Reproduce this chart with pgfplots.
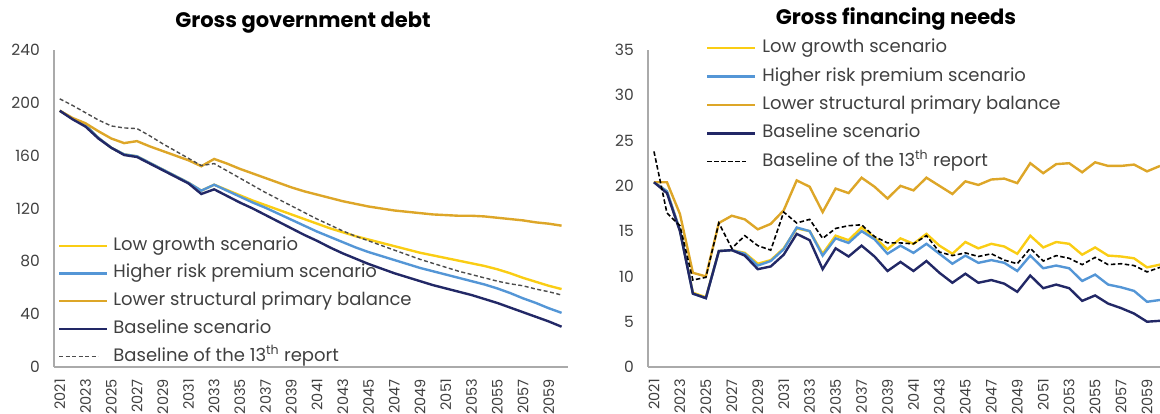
\documentclass[border=0pt]{standalone}
\usepackage{fontspec}
\setmainfont{Poppins}
\usepackage{pgfplots}
\usepackage{pgfplotstable}
\pgfplotsset{compat=1.18}
\definecolor{cLG}{RGB}{250,205,20}
\definecolor{cHR}{RGB}{84,150,214}
\definecolor{cLS}{RGB}{221,166,40}
\definecolor{cBL}{RGB}{34,40,102}
\definecolor{cAX}{RGB}{170,170,170}
\definecolor{cTX}{RGB}{64,64,64}

\pgfplotstableread{
year lg hr ls bl bt
2021 194 194 194 194 203
2022 188 188 188.5 187.5 198
2023 183 183 184.5 182 192.5
2024 173.5 173.5 178.5 173 187
2025 166 166 173 166 182.5
2026 161 161 169.5 160.5 181
2027 159.5 159.5 171 159 180.5
2028 154.5 154.5 167 154 175
2029 149.5 149.5 163.5 149 169
2030 144.5 144.5 160 144 163.5
2031 139.5 139.5 156.5 139 158
2032 133.5 133.5 152 131 152.5
2033 138 138 157.5 134.5 154
2034 134 133.5 154 129.5 148.5
2035 130 129 150 124.5 143
2036 126 124.5 146.5 120 137.5
2037 122.5 120.5 143 115 132
2038 119 116 139.5 110 127
2039 115.5 111.5 136 105 122
2040 112 107 133 100 117
2041 108.5 102.5 130.5 95.5 112
2042 105 98.5 128 90.5 107.5
2043 102 94.5 125.5 86 103
2044 99 90.5 123.5 82 99
2045 96.5 87 121.5 78 95.5
2046 94 84 120 74.5 92
2047 91.5 81 118.5 71 88.5
2048 89 78 117.5 68 85
2049 86.5 75 116.5 65 81.5
2050 84.5 72.5 115.5 62 78.5
2051 82.5 70 115 59.5 75.5
2052 80.5 67.5 114.5 57 72.5
2053 78.5 65 114.5 54.5 70
2054 76.5 62.5 114 51.5 67.5
2055 74 59.5 113 48.5 65
2056 71 56 112 45 63
2057 67.5 52 111 41.5 61.5
2058 64.5 48.5 109.5 38 59
2059 61.5 44.5 108.5 34.5 57
2060 59 41 107 30.5 54.5
}\debt

\pgfplotstableread{
year lg hr ls bl bt
2021 20.4 20.4 20.4 20.4 23.8
2022 19.4 19.4 20.4 19.2 17.0
2023 15.1 15.1 16.9 15.0 15.6
2024 8.2 8.1 10.4 8.1 9.6
2025 7.7 7.6 10.0 7.6 9.9
2026 12.8 12.8 15.9 12.8 15.9
2027 12.9 12.9 16.7 12.9 13.1
2028 12.6 12.5 16.3 12.3 14.5
2029 11.4 11.2 15.2 10.8 13.4
2030 11.8 11.7 15.8 11.1 12.9
2031 13.1 13.0 17.3 12.4 17.1
2032 15.3 15.4 20.6 14.7 15.9
2033 15.0 15.0 19.9 14.0 16.3
2034 12.5 12.3 17.1 10.8 14.2
2035 14.5 14.2 19.7 13.1 15.3
2036 14.0 13.7 19.2 12.2 15.6
2037 15.4 15.0 20.9 13.4 15.7
2038 14.3 14.1 19.9 12.2 14.4
2039 13.0 12.5 18.6 10.6 13.7
2040 14.2 13.4 20.0 11.6 13.7
2041 13.6 12.6 19.5 10.6 13.6
2042 14.7 13.6 20.9 11.7 14.5
2043 13.4 12.5 20.0 10.4 12.7
2044 12.5 11.4 19.1 9.3 12.3
2045 13.8 12.3 20.5 10.3 12.6
2046 13.1 11.5 20.1 9.3 12.2
2047 13.6 11.8 20.7 9.6 12.5
2048 13.3 11.5 20.8 9.2 11.8
2049 12.5 10.6 20.3 8.3 11.4
2050 14.5 12.3 22.5 10.1 13.1
2051 13.2 10.9 21.4 8.7 11.7
2052 13.8 11.2 22.4 9.1 12.3
2053 13.6 10.9 22.5 8.7 12.0
2054 12.4 9.5 21.5 7.3 11.3
2055 13.2 10.2 22.6 7.9 12.1
2056 12.3 9.1 22.2 7.0 11.3
2057 12.2 8.8 22.2 6.5 11.4
2058 12.0 8.4 22.35 5.9 11.2
2059 11.0 7.2 21.6 5.0 10.5
2060 11.3 7.4 22.2 5.1 11.0
}\gfn

\pgfplotsset{
  myaxis/.style={
    scale only axis,
    height=317pt,
    anchor=south west,
    axis x line=bottom,
    axis y line=left,
    axis line style={draw=cAX, line width=1.2pt, -},
    major tick length=0pt,
    xtick={2021,2023,...,2059},
    /pgf/number format/1000 sep={},
    /pgf/number format/assume math mode=true,
    tick label style={font=\fontsize{15.5}{18}\selectfont, text=cTX, inner sep=0pt},
    xticklabel style={rotate=90, anchor=east, font=\fontsize{14.5}{16}\selectfont},
    xticklabel shift=12pt,
    yticklabel shift=14pt,
    legend cell align=left,
    legend image code/.code={\draw[##1] (0pt,0pt) -- (48pt,0pt);},
    title style={font=\bfseries\fontsize{21}{24}\selectfont, anchor=base, inner sep=0pt},
  },
  lgs/.style={color=cLG, line width=2.4pt},
  hrs/.style={color=cHR, line width=2.4pt},
  lss/.style={color=cLS, line width=2.4pt},
  bls/.style={color=cBL, line width=2.4pt},
  shortleg/.style={legend image code/.code={\draw[##1] (0pt,0pt) -- (39pt,0pt);}},
}

\begin{document}
\begin{tikzpicture}[x=1pt,y=1pt]
\path[use as bounding box] (0,0) rectangle (1160,414);

\begin{axis}[myaxis,
  at={(54pt,47pt)}, width=514pt,
  xmin=2020.55, xmax=2060.5,
  ymin=0, ymax=240, ytick={0,40,...,240},
  title={Gross government debt},
  title style={at={(0.4844,1.0527)}},
  legend style={at={(0.0078,0.411)}, anchor=north west, draw=none, fill=none,
    inner sep=0pt, outer sep=0pt, row sep=9.75pt, column sep=5pt,
    font=\fontsize{18}{21}\selectfont, text=cTX,
    nodes={inner sep=0pt, text height=13.5pt, text depth=4.5pt}},
]
\addplot[lgs] table[x=year,y=lg] {\debt};
\addlegendentry{Low growth scenario}
\addplot[hrs] table[x=year,y=hr] {\debt};
\addlegendentry{Higher risk premium scenario}
\addplot[lss] table[x=year,y=ls] {\debt};
\addlegendentry{Lower structural primary balance}
\addplot[bls] table[x=year,y=bl] {\debt};
\addlegendentry{Baseline scenario}
\addplot[color=black!70, line width=1.4pt, dash pattern=on 4pt off 2.5pt, shortleg] table[x=year,y=bt] {\debt};
\addlegendentry{Baseline of the 13\textsuperscript{th} report}
\end{axis}

\begin{axis}[myaxis,
  at={(648pt,47pt)}, width=512pt,
  xmin=2020.54, xmax=2060,
  ymin=0, ymax=35, ytick={0,5,...,35},
  title={Gross financing needs},
  title style={at={(0.4844,1.060)}},
  legend style={at={(0.1133,1.0338)}, anchor=north west, draw=none, fill=none,
    inner sep=0pt, outer sep=0pt, row sep=10.35pt, column sep=6pt,
    font=\fontsize{18}{21}\selectfont, text=cTX,
    nodes={inner sep=0pt, text height=13.5pt, text depth=4.5pt}},
]
\addplot[lgs] table[x=year,y=lg] {\gfn};
\addlegendentry{Low growth scenario}
\addplot[hrs] table[x=year,y=hr] {\gfn};
\addlegendentry{Higher risk premium scenario}
\addplot[lss] table[x=year,y=ls] {\gfn};
\addlegendentry{Lower structural primary balance}
\addplot[bls] table[x=year,y=bl] {\gfn};
\addlegendentry{Baseline scenario}
\addplot[color=black, line width=1.6pt, dash pattern=on 4.5pt off 2.5pt, shortleg] table[x=year,y=bt] {\gfn};
\addlegendentry{Baseline of the 13\textsuperscript{th} report}
\end{axis}
\end{tikzpicture}
\end{document}
